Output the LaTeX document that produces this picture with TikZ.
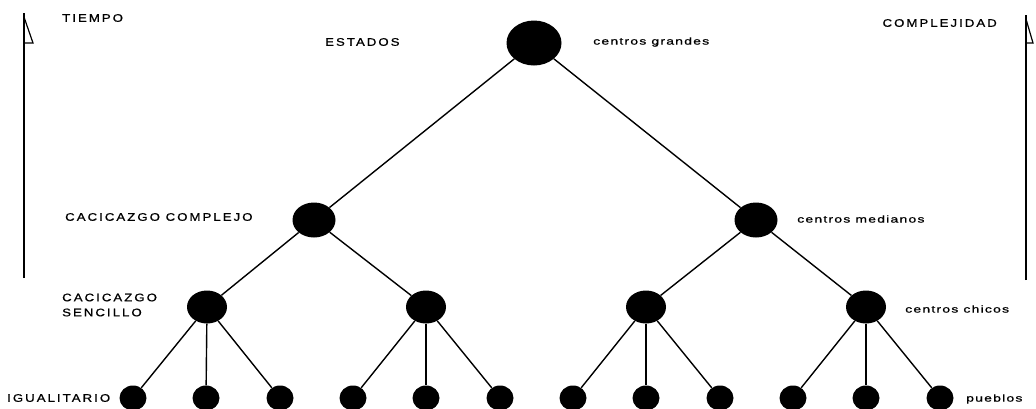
\documentclass[tikz,border=0pt]{standalone}
\usepackage{fontspec}
\usetikzlibrary{shapes.geometric}
\setmainfont{Liberation Sans}
\newfontfamily\capsfont[FakeStretch=1.2,LetterSpace=18.5,FakeBold=0.8]{Liberation Sans}
\newfontfamily\lowfont[FakeStretch=1.4,LetterSpace=12,FakeBold=0.8]{Liberation Sans}
\begin{document}
\begin{tikzpicture}[x=1bp,y=-1bp,
  dotL/.style={fill=black,ellipse,minimum width=55bp,minimum height=45bp,inner sep=0pt},
  dotM/.style={fill=black,ellipse,minimum width=43bp,minimum height=35bp,inner sep=0pt},
  dotS/.style={fill=black,ellipse,minimum width=40bp,minimum height=33bp,inner sep=0pt},
  dotX/.style={fill=black,ellipse,minimum width=27bp,minimum height=25bp,inner sep=0pt},
  link/.style={line width=1.4bp},
  axis/.style={line width=1.6bp},
  caps/.style={font=\capsfont\fontsize{11bp}{13bp}\selectfont,inner sep=0pt},
  low/.style={font=\lowfont\fontsize{10bp}{12bp}\selectfont,inner sep=0pt}
]
\useasboundingbox (0,0) rectangle (1036,408);
\fill[white] (0,0) rectangle (1036,408);
% tree nodes
\node[dotL] (t) at (534,43) {};
\node[dotM] (l2a) at (314,220) {};
\node[dotM] (l2b) at (756,220) {};
\node[dotS] (l3a) at (207,307) {};
\node[dotS] (l3b) at (426,307) {};
\node[dotS] (l3c) at (646,307) {};
\node[dotS] (l3d) at (866,307) {};
\foreach \i/\x in {1/133,2/206,3/280,4/353,5/426,6/500,7/573,8/646,9/720,10/793,11/866,12/940}
  \node[dotX] (b\i) at (\x,398) {};
% links
\draw[link] (t) -- (l2a);
\draw[link] (t) -- (l2b);
\draw[link] (l2a) -- (l3a);
\draw[link] (l2a) -- (l3b);
\draw[link] (l2b) -- (l3c);
\draw[link] (l2b) -- (l3d);
\draw[link] (l3a) -- (b1);
\draw[link] (l3a) -- (b2);
\draw[link] (l3a) -- (b3);
\draw[link] (l3b) -- (b4);
\draw[link] (l3b) -- (b5);
\draw[link] (l3b) -- (b6);
\draw[link] (l3c) -- (b7);
\draw[link] (l3c) -- (b8);
\draw[link] (l3c) -- (b9);
\draw[link] (l3d) -- (b10);
\draw[link] (l3d) -- (b11);
\draw[link] (l3d) -- (b12);
% axes
\coordinate (lt) at (24,13);
\coordinate (lb) at (24,278);
\draw[axis] (lb) -- (lt);
\draw[line width=1.2bp] (24,17) -- (33,43) -- (24,43);
\coordinate (rt) at (1026,15);
\coordinate (rb) at (1026,280);
\draw[axis] (rb) -- (rt);
\draw[line width=1.2bp] (1026,19) -- (1033,43) -- (1026,43);
% labels
\node[caps,anchor=west] (tiempo) at (62,18) {TIEMPO};
\node[caps,anchor=west] (estados) at (325,42) {ESTADOS};
\node[low,anchor=west] (cg) at (593,42) {centros grandes};
\node[caps,anchor=east] (compl) at (997,23) {COMPLEJIDAD};
\node[caps,anchor=west] (cc) at (65,217) {CACICAZGO COMPLEJO};
\node[low,anchor=west] (cm) at (797,219) {centros medianos};
\node[caps,anchor=west,align=left] (cs) at (62,305) {CACICAZGO\\[2bp]SENCILLO};
\node[low,anchor=west] (cch) at (905,309) {centros chicos};
\node[caps,anchor=west] (ig) at (7,398) {IGUALITARIO};
\node[low,anchor=west] (pu) at (966,399) {pueblos};
\end{tikzpicture}
\end{document}
